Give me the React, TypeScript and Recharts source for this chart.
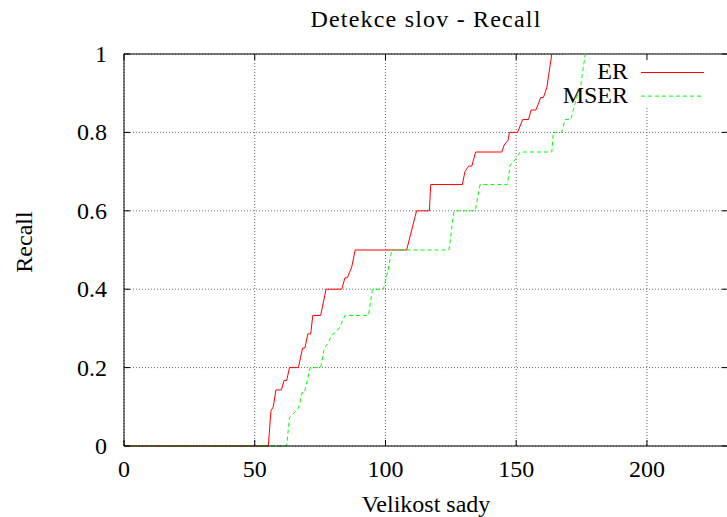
import React from 'react';
import { LineChart, Line, XAxis, YAxis, CartesianGrid, ReferenceLine, ReferenceArea, Legend } from 'recharts';

// recall vs. set size
const erX = [0, 55.2, 56.2, 57.1, 58.1, 60.2, 61.2, 62.2, 63.3, 66.7, 68.3, 69.2, 70.3, 71.4, 72.2, 75.2, 77.3, 83.3, 84.5, 85.4, 87.1, 88.4, 108.1, 111.9, 116.8, 117.3, 129.4, 130.4, 131.8, 133, 134.5, 144.5, 145.4, 146.9, 147.4, 150.5, 152.5, 154.7, 155.7, 157.5, 159.4, 160.4, 161.7, 162.7, 163.6];
const erY = [0, 0, 0.09, 0.1, 0.143, 0.143, 0.167, 0.167, 0.2, 0.2, 0.25, 0.25, 0.286, 0.286, 0.333, 0.333, 0.4, 0.4, 0.429, 0.429, 0.457, 0.5, 0.5, 0.6, 0.6, 0.667, 0.667, 0.7, 0.714, 0.714, 0.75, 0.75, 0.768, 0.78, 0.8, 0.8, 0.833, 0.833, 0.857, 0.857, 0.889, 0.889, 0.914, 0.959, 1];

const mserX = [0, 62.2, 63.3, 66.7, 68.3, 69.2, 71.2, 75.2, 76.6, 78.1, 79.4, 81.4, 82.6, 84.5, 93.5, 95, 99.2, 100.9, 102.4, 124.3, 126.2, 134.3, 136.2, 146.6, 147.7, 149.6, 151.5, 163.6, 164.2, 167.4, 168.7, 170.9, 172.5, 173.2, 174.4, 176.4];
const mserY = [0, 0, 0.072, 0.096, 0.141, 0.141, 0.2, 0.2, 0.25, 0.262, 0.283, 0.292, 0.304, 0.333, 0.333, 0.4, 0.4, 0.445, 0.5, 0.5, 0.6, 0.6, 0.667, 0.667, 0.717, 0.73, 0.75, 0.75, 0.8, 0.8, 0.833, 0.833, 0.874, 0.891, 0.908, 1];

const xTicks = [0, 50, 100, 150, 200];
const yTicks = [0, 0.2, 0.4, 0.6, 0.8, 1];
const seriesNames = ['ER', 'MSER'];
const seriesColors = ['#ff0000', '#00ff00'];
const seriesDash = [undefined, '4 3'];

const toPoints = (xs: number[], ys: number[]) => xs.map((x, i) => ({ x, y: ys[i] }));
const erData = toPoints(erX, erY);
const mserData = toPoints(mserX, mserY);

const CHART_W = 740;
const CHART_H = 517;
const PLOT_TOP = 54;
const PLOT_BOTTOM = 446;
const PLOT_LEFT = 124;
const PLOT_RIGHT = 728;
const X_MAX = 231;
const FONT = 24;
const TICK = 6;
const SERIF = '"Liberation Serif", "Times New Roman", Times, serif';

const XTick = (props: any) => {
  const { x, payload } = props;
  return (
    <g>
      <line x1={x} x2={x} y1={PLOT_BOTTOM} y2={PLOT_BOTTOM - TICK} stroke="#000" />
      <line x1={x} x2={x} y1={PLOT_TOP} y2={PLOT_TOP + TICK} stroke="#000" />
      <text x={x} y={477} textAnchor="middle" fontSize={FONT} fontFamily={SERIF} fill="#000">{payload.value}</text>
    </g>
  );
};

const YTick = (props: any) => {
  const { y, payload } = props;
  return (
    <g>
      <line x1={PLOT_LEFT} x2={PLOT_LEFT + TICK} y1={y} y2={y} stroke="#000" />
      <line x1={PLOT_RIGHT} x2={PLOT_RIGHT - TICK} y1={y} y2={y} stroke="#000" />
      <text x={107} y={y + 8} textAnchor="end" fontSize={FONT} fontFamily={SERIF} fill="#000">{payload.value}</text>
    </g>
  );
};

const XLabel = (props: any) => {
  const vb = props.viewBox;
  return <text x={vb.x + vb.width / 2} y={512} textAnchor="middle" fontSize={FONT} fontFamily={SERIF} fill="#000">Velikost sady</text>;
};

const YLabel = () => (
  <text x={24} y={242} transform="rotate(-90, 24, 242)" textAnchor="middle" dominantBaseline="central" fontSize={FONT} fontFamily={SERIF} fill="#000">Recall</text>
);

const KeyBox = () => (
  <svg width={190} height={55} style={{ display: 'block' }}>
    {seriesNames.map((name, i) => (
      <g key={name}>
        <text x={88} y={24 + 24 * i} textAnchor="end" fontSize={FONT} fontFamily={SERIF} fill="#000">{name}</text>
        <line x1={101} x2={164} y1={17.5 + 23.6 * i} y2={17.5 + 23.6 * i} stroke={seriesColors[i]} strokeDasharray={seriesDash[i]} />
      </g>
    ))}
  </svg>
);

export default function App() {
  return (
    <div style={{ position: 'absolute', left: 0, top: 0, width: 727, height: 517, overflow: 'hidden', background: '#fff', fontFamily: SERIF }}>
      <div style={{ position: 'absolute', left: PLOT_LEFT, top: 7, width: PLOT_RIGHT - PLOT_LEFT, textAlign: 'center', fontSize: FONT, lineHeight: '24px', letterSpacing: 1.2, color: '#000' }}>
        Detekce slov - Recall
      </div>
      <LineChart
        width={CHART_W}
        height={CHART_H}
        margin={{ top: PLOT_TOP, right: CHART_W - PLOT_RIGHT, bottom: 0, left: 0 }}
      >
        <CartesianGrid stroke="#666" strokeDasharray="1 2" />
        <ReferenceArea x1={168} x2={X_MAX} y1={0.862} y2={1} fill="#fff" fillOpacity={1} stroke="none" />
        <XAxis
          type="number"
          dataKey="x"
          domain={[0, X_MAX]}
          ticks={xTicks}
          allowDataOverflow
          height={CHART_H - PLOT_BOTTOM}
          tickLine={false}
          axisLine={{ stroke: '#000' }}
          tick={<XTick />}
          label={<XLabel />}
        />
        <YAxis
          type="number"
          dataKey="y"
          domain={[0, 1]}
          ticks={yTicks}
          width={PLOT_LEFT}
          tickLine={false}
          axisLine={{ stroke: '#000' }}
          tick={<YTick />}
          label={<YLabel />}
        />
        <ReferenceLine y={1} stroke="#000" />
        <ReferenceLine x={X_MAX} stroke="#000" />
        <Line data={erData} dataKey="y" name={seriesNames[0]} type="linear" stroke={seriesColors[0]} strokeWidth={1} dot={false} activeDot={false} isAnimationActive={false} />
        <Line data={mserData} dataKey="y" name={seriesNames[1]} type="linear" stroke={seriesColors[1]} strokeWidth={1} strokeDasharray={seriesDash[1]} dot={false} activeDot={false} isAnimationActive={false} />
        <Legend
          layout="horizontal"
          verticalAlign="middle"
          align="center"
          content={<KeyBox />}
          wrapperStyle={{ position: 'absolute', left: 540, top: 55, width: 190, height: 55 }}
        />
      </LineChart>
    </div>
  );
}
